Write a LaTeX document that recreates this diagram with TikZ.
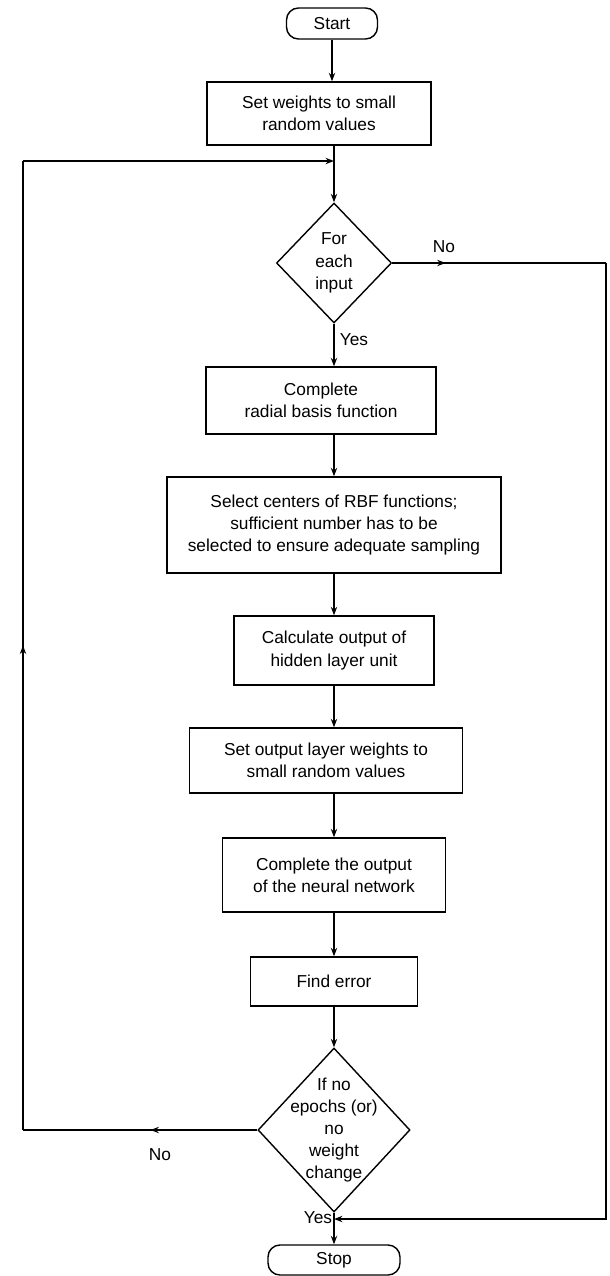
\documentclass[tikz,border=0pt]{standalone}
\usepackage{fontspec}
\setmainfont{Liberation Sans}
\usetikzlibrary{shapes.geometric,arrows.meta,decorations.markings}
\tikzset{
  proc/.style   = {rectangle, draw, line width=1pt, align=center, inner sep=0},
  dec/.style    = {diamond, draw, line width=1pt, align=center, inner sep=0},
  term/.style   = {rectangle, rounded corners=3mm, draw, line width=1pt, inner sep=0},
  link/.style   = {line width=1pt},
  flow/.style   = {link, -{Stealth[length=6pt,width=4.5pt]}},
  midarr/.style = {postaction={decorate}, decoration={markings, mark=at position #1 with {\arrow{Stealth[length=6pt,width=4.5pt]}}}},
  et/.style     = {inner sep=0}
}
\begin{document}
\begin{tikzpicture}[x=0.025cm, y=-0.025cm, font=\fontsize{12.3}{15.8}\selectfont]
  \useasboundingbox (0,0) rectangle (610,1276);

  \node[term, minimum width=2.275cm, minimum height=0.775cm] (start) at (332,23.5) {Start};
  \node[proc, minimum width=5.6cm, minimum height=1.575cm] (sw) at (319,113.5) {Set weights to small\\random values};
  \node[dec, minimum width=2.875cm, minimum height=3cm] (q1) at (334,263) {For\\each\\input};
  \node[proc, minimum width=5.75cm, minimum height=1.675cm] (rbf) at (321,400.5) {Complete\\radial basis function};
  \node[proc, minimum width=8.35cm, minimum height=2.4cm] (sel) at (334,525) {Select centers of RBF functions;\\sufficient number has to be\\selected to ensure adequate sampling};
  \node[proc, minimum width=5cm, minimum height=1.725cm] (calc) at (334,650.5) {Calculate output of\\hidden layer unit};
  \node[proc, minimum width=6.825cm, minimum height=1.625cm] (sout) at (326,760.5) {Set output layer weights to\\small random values};
  \node[proc, minimum width=5.575cm, minimum height=1.85cm] (cout) at (334,875) {Complete the output\\of the neural network};
  \node[proc, minimum width=4.175cm, minimum height=1.225cm] (ferr) at (334,981.5) {Find error};
  \node[dec, minimum width=3.8cm, minimum height=4.1cm, label={[align=center]center:{If no\\epochs (or)\\no\\weight\\change}}] (q2) at (334,1130) {};
  \node[term, minimum width=3.3cm, minimum height=0.75cm] (stop) at (334,1260) {Stop};

  \node[et] (no1)  at (444,247)  {No};
  \node[et] (yes1) at (354,340)  {Yes};
  \node[et] (no2)  at (160,1155) {No};
  \node[et] (yes2) at (318,1218) {Yes};

  \coordinate (ltop) at (23,161);
  \coordinate (lbot) at (23,1130);
  \coordinate (rtop) at (606,263);
  \coordinate (rbot) at (606,1219);
  \coordinate (rin)  at (334,1219);

  \draw[flow] (start) -- (start |- sw.north);
  \draw[flow] (q1 |- sw.south) -- (q1);
  \draw[flow] (q1) -- (q1 |- rbf.north);
  \draw[flow] (sel |- rbf.south) -- (sel);
  \draw[flow] (sel) -- (calc);
  \draw[flow] (calc) -- (calc |- sout.north);
  \draw[flow] (cout |- sout.south) -- (cout);
  \draw[flow] (cout) -- (ferr);
  \draw[flow] (ferr) -- (q2);
  \draw[flow] (q2) -- (stop);

  \draw[link, midarr=0.456] (q2.west) -- (lbot);
  \draw[link, midarr=0.5] (lbot) -- (ltop);
  \draw[flow] (ltop) -- (ltop -| q1);
  \draw[link, midarr=0.25] (q1.east) -- (rtop);
  \draw[flow] (rtop) -- (rbot) -- (rin);
\end{tikzpicture}
\end{document}
